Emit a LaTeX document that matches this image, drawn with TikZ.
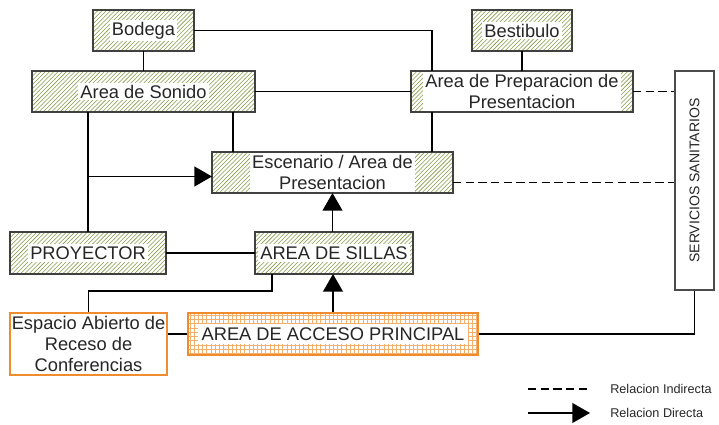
\documentclass[tikz,border=0pt]{standalone}
\usepackage{fontspec}
\setmainfont{Liberation Sans}
\usepackage{xcolor}
\usepackage{tikz}
\usetikzlibrary{arrows.meta,patterns,calc}

\definecolor{rayado}{RGB}{135,155,70}
\definecolor{naranja}{RGB}{240,140,45}

\tikzset{
	zona/.style 2 args={draw=black!75, line width=0.8pt, pattern=north east lines, pattern color=rayado,
		minimum width=#1*0.025cm, minimum height=#2*0.025cm, inner sep=0pt, outer sep=0pt},
	blanco/.style={fill=white, inner sep=1.5pt},
	linea/.style={line width=1.2pt, black},
	indirecta/.style={line width=1.3pt, black, dash pattern=on 6pt off 3pt},
	directa/.style={line width=1.2pt, black, -{Triangle[length=12.5pt,width=14pt]}},
	leyenda/.style={anchor=west, inner sep=0pt, font=\fontsize{9}{11}\selectfont}
}

\begin{document}
\begin{tikzpicture}[x=0.025cm, y=-0.025cm, font=\fontsize{13}{15}\selectfont, text=black!85]
	\useasboundingbox (0,0) rectangle (719,425);
	\node[zona={101}{41}, label={[blanco]center:Bodega}] (bod) at (143.5,30.5) {};
	\node[zona={223}{41}, label={[blanco]center:Area de Sonido}] (son) at (143.5,91.5) {};
	\node[zona={100}{41}, label={[blanco]center:Bestibulo}] (bes) at (522,30.5) {};
	\node[zona={222}{41}, label={[blanco,align=center,minimum height=0.95cm]center:Area de Preparacion de\\Presentacion}] (prep) at (522,91.5) {};
	\node[zona={241}{41}, label={[blanco,align=center,minimum height=0.95cm]center:Escenario / Area de\\Presentacion}] (esc) at (332.5,172.5) {};
	\node[zona={156}{42}, label={[blanco]center:PROYECTOR}] (proy) at (88,253) {};
	\node[zona={158}{42}, label={[blanco]center:AREA DE SILLAS}] (sil) at (334,253) {};
	\node[draw=black!70, fill=white, line width=0.8pt, minimum width=39*0.025cm, minimum height=219*0.025cm,
		inner sep=0pt, font=\fontsize{10}{12}\selectfont] (san) at (694.5,180.5) {\rotatebox{90}{SERVICIOS SANITARIOS}};
	\node[draw=naranja, line width=1.5pt, fill=white, align=center, inner sep=0pt,
		minimum width=157*0.025cm, minimum height=62*0.025cm] (esp) at (88.5,344) {Espacio Abierto de\\Receso de\\Conferencias};
	\node[draw=naranja, line width=2pt, pattern=grid, pattern color=naranja!70, inner sep=0pt,
		minimum width=290*0.025cm, minimum height=42*0.025cm,
		label={[blanco,inner sep=2.5pt]center:AREA DE ACCESO PRINCIPAL}] (acc) at (333,334) {};
	%
	\path[linea]
		(bod) edge (son)
		(bes) edge (prep)
		(son) edge (prep)
		(proy) edge (sil);
	\draw[linea] (bod.east) -| ($(prep.north west)+(21,0)$);
	\draw[linea] ($(prep.south west)+(21,0)$) coordinate (p1) -- (p1 |- esc.north);
	\draw[linea] ($(son.south west)+(201,0)$) coordinate (s1) -- (s1 |- esc.north);
	\draw[linea] (proy.north |- son.south) -- (proy.north);
	\draw[linea] ($(sil.south west)+(17,0)$) -- ++(0,17) -| (esp.north);
	\draw[linea] (acc.west -| esp.east) -- (acc.west);
	\draw[linea] (acc.east) -| (san.south);
	%
	\coordinate (e0) at ($(esc.west)+(0,4)$);
	\draw[directa] (e0 -| proy.north) -- (e0);
	\draw[directa] (sil.north -| esc.south) -- (esc.south);
	\draw[directa] (acc.north) -- (acc.north |- sil.south);
	%
	\coordinate (e1) at ($(esc.east)+(0,10)$);
	\draw[indirecta] (prep.east) -- (prep.east -| san.west);
	\draw[indirecta] (e1) -- (e1 -| san.west);
	%
	\node[leyenda] (tind) at (610,389) {Relacion Indirecta};
	\node[leyenda] (tdir) at (610,413) {Relacion Directa};
	\draw[indirecta] ($(tind.west)+(-82,0)$) -- ($(tind.west)+(-20,0)$);
	\draw[directa] ($(tdir.west)+(-82,0)$) -- ($(tdir.west)+(-20,0)$);
\end{tikzpicture}
\end{document}
